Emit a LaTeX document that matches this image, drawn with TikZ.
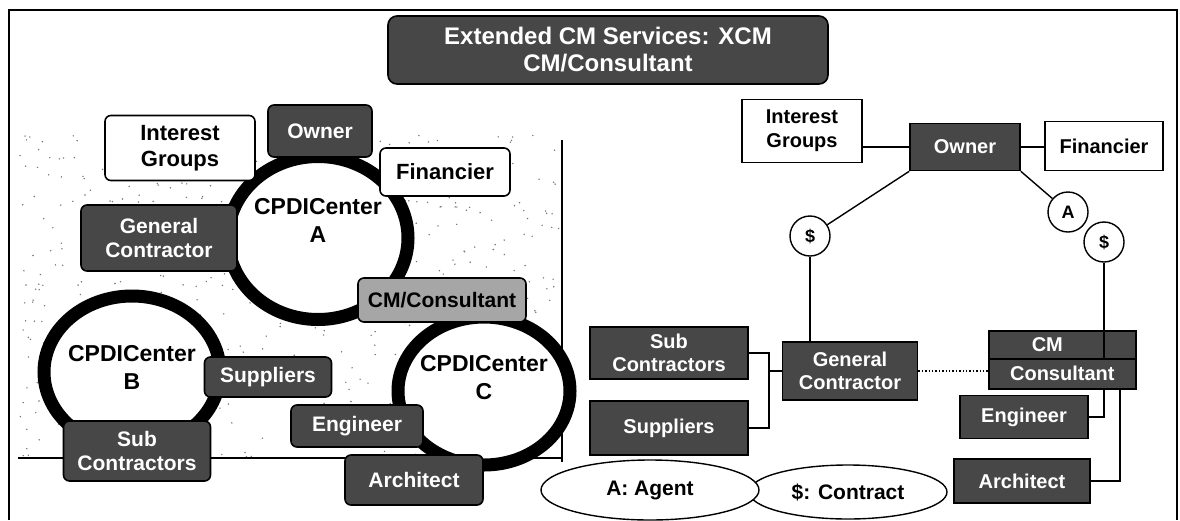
\documentclass[tikz,border=0pt]{standalone}
\usepackage{fontspec}
\setmainfont{Liberation Sans}
\usetikzlibrary{shapes.geometric}
\begin{document}
\begin{tikzpicture}[x=1pt,y=-1pt,
  base/.style={draw=black, line width=1.6pt, align=center, inner sep=0pt, font=\bfseries\fontsize{21}{24}\selectfont},
  darkbox/.style={base, fill=black!72, text=white, rounded corners=6pt},
  graybox/.style={base, fill=black!35, text=black, rounded corners=6pt},
  whitebox/.style={base, fill=white, text=black, rounded corners=6pt, font=\bfseries\fontsize{22}{26}\selectfont},
  rdark/.style={base, fill=black!72, text=white, font=\bfseries\fontsize{20}{23}\selectfont},
  rwhite/.style={base, fill=white, text=black, font=\bfseries\fontsize{20}{24}\selectfont},
  ring/.style={ellipse, draw=black, line width=13pt, fill=white, inner sep=0pt},
  ringtext/.style={align=center, font=\bfseries\fontsize{23}{28}\selectfont},
  money/.style={circle, draw=black, line width=1.4pt, fill=white, minimum size=40pt, inner sep=0pt, font=\bfseries\fontsize{18}{20}\selectfont},
  legend/.style={ellipse, draw=black, line width=1.4pt, fill=white, inner sep=0pt, font=\bfseries\fontsize{21}{24}\selectfont},
  conn/.style={draw=black, line width=1.4pt}
]
\useasboundingbox (0,0) rectangle (1180,520);
% frame
\draw[line width=1.6pt] (9,520) -- (9,10) -- (1177,10) -- (1177,520);

% title
\node[darkbox, minimum width=440pt, minimum height=68pt, rounded corners=9pt, font=\bfseries\fontsize{24}{27}\selectfont] (title) at (608,50)
  {Extended CM Services: XCM\\CM/Consultant};

% ---------------- left part ----------------
\pgfmathsetseed{11}
\foreach \i in {1,...,650}{
  \pgfmathsetmacro\px{20+540*rnd}
  \pgfmathsetmacro\py{135+322*rnd}
  \fill[black!55] (\px,\py) circle (0.8pt);
}
\draw[line width=1.5pt] (18,458) -- (562,458);
\draw[line width=1.5pt] (562,140) -- (562,462);

\node[ring, minimum width=180pt, minimum height=163pt] (ca) at (318,238) {};
\node[ring, minimum width=176pt, minimum height=152pt] (cb) at (132,372) {};
\node[ring, minimum width=172pt, minimum height=148pt] (cc) at (484,391) {};
\node[ringtext] (ta) at (318,220) {CPDICenter\\A};
\node[ringtext] (tb) at (132,367) {CPDICenter\\B};
\node[ringtext] (tc) at (484,378) {CPDICenter\\C};

\node[whitebox, minimum width=150pt, minimum height=65pt] (igL) at (180,148) {Interest\\Groups};
\node[darkbox, minimum width=104pt, minimum height=52pt] (owL) at (320,131) {Owner};
\node[whitebox, minimum width=130pt, minimum height=48pt] (fiL) at (445,172) {Financier};
\node[darkbox, minimum width=156pt, minimum height=66pt] (gcL) at (159,238) {General\\Contractor};
\node[graybox, minimum width=168pt, minimum height=44pt] (cmL) at (442,300) {CM/Consultant};
\node[darkbox, minimum width=127pt, minimum height=40pt] (suL) at (268,377) {Suppliers};
\node[darkbox, minimum width=132pt, minimum height=42pt] (enL) at (357,426) {Engineer};
\node[darkbox, minimum width=138pt, minimum height=50pt] (arL) at (414,480) {Architect};
\node[darkbox, minimum width=147pt, minimum height=60pt] (scL) at (137,451) {Sub\\Contractors};

% ---------------- right part ----------------
\node[rwhite, minimum width=120pt, minimum height=63pt] (igR) at (802,131) {Interest\\Groups};
\node[rdark, minimum width=110pt, minimum height=47pt] (owR) at (965,147) {Owner};
\node[rwhite, minimum width=118pt, minimum height=49pt] (fiR) at (1104,146) {Financier};

\node[money] (dL) at (810,236) {\$};
\node[money] (aR) at (1068,212) {A};
\node[money] (dR) at (1104,242) {\$};

\node[rdark, minimum width=158pt, minimum height=52pt] (scR) at (669,353) {Sub\\Contractors};
\node[rdark, minimum width=158pt, minimum height=54pt] (suR) at (669,428) {Suppliers};
\node[rdark, minimum width=135pt, minimum height=58pt] (gcR) at (850,371) {General\\Contractor};
\node[rdark, minimum width=147pt, minimum height=28pt, anchor=north west] (cmT) at (988,330) {\hspace*{-30pt}CM};
\node[rdark, minimum width=147pt, minimum height=30pt, anchor=north west] (cmB) at (988,358) {Consultant};
\node[rdark, minimum width=128pt, minimum height=43pt] (enR) at (1024,417) {Engineer};
\node[rdark, minimum width=136pt, minimum height=44pt] (arR) at (1022,481) {Architect};

\coordinate (bx) at (769,371);
\coordinate (ax) at (1120,0);

\draw[conn] (owR.west) -- (owR.west -| igR.east);
\draw[conn] (owR.east) -- (owR.east -| fiR.west);
\draw[conn] (owR.south west) -- (dL);
\draw[conn] (owR.south east) -- (aR);
\draw[conn] (dL) -- (dL |- gcR.north);
\draw[conn] (dR) -- (dR |- cmT.north);
\draw[conn] (dR |- cmT.north) -- (dR |- cmT.south);
\draw[conn] (scR.east) -| (bx) |- (suR.east);
\draw[conn] (bx) -- (gcR.west);
\draw[conn, dotted, line width=2pt] (gcR.east) -- (gcR.east -| cmB.west);
\draw[conn] (enR.east) -| (cmB.south -| dR);
\draw[conn] (arR.east) -| (cmB.south -| ax);

\node[legend, minimum width=198pt, minimum height=54pt] (ctr) at (848,492) {\$: Contract};
\node[legend, minimum width=218pt, minimum height=60pt] (agt) at (650,490) {A: Agent};
\end{tikzpicture}
\end{document}
